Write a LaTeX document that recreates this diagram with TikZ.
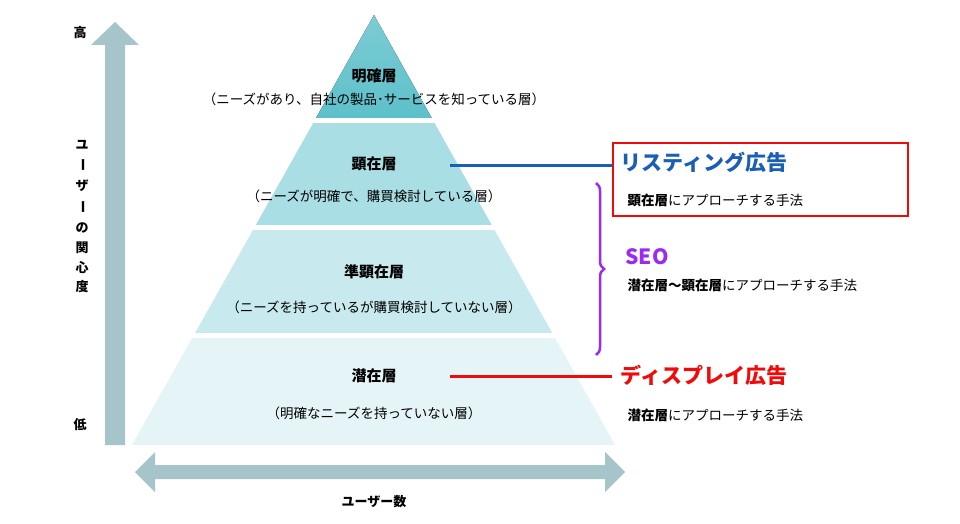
\documentclass[tikz,border=0pt]{standalone}
\usepackage{fontspec}
\setmainfont{Noto Sans CJK JP}
\usetikzlibrary{decorations.pathreplacing}
\definecolor{axisgray}{HTML}{A5C5CA}
\definecolor{layerA}{HTML}{5DC0CA}
\definecolor{layerB}{HTML}{A9DEE4}
\definecolor{layerC}{HTML}{C8EAEE}
\definecolor{layerD}{HTML}{E5F5F7}
\definecolor{adblue}{HTML}{1A5FB4}
\definecolor{adred}{HTML}{F00A0A}
\definecolor{seopurple}{HTML}{9A2BF0}
\tikzset{
  layer title/.style={font=\bfseries\fontsize{15}{17}\selectfont},
  layer note/.style={font=\fontsize{13.5}{15}\selectfont},
  axis label/.style={font=\bfseries\fontsize{13}{15}\selectfont},
  side note/.style={anchor=west,font=\fontsize{13.5}{15}\selectfont},
  ad name/.style={anchor=west,font=\bfseries\fontsize{21}{23}\selectfont}
}
\begin{document}
\begin{tikzpicture}[x=1pt,y=-1pt]
  \useasboundingbox (0,0) rectangle (960,524);
  \fill[white] (0,0) rectangle (960,524);

  % pyramid layers
  \begin{scope}
    \clip (374,15) -- (615,445) -- (132,445) -- cycle;
    \fill[top color=layerA!80!white,bottom color=layerA] (100,10) rectangle (650,118);
    \fill[layerB] (100,123) rectangle (650,225);
    \fill[layerC] (100,230) rectangle (650,333);
    \fill[layerD] (100,338) rectangle (650,445);
  \end{scope}

  \node[layer title] (t1) at (374,76) {明確層};
  \node[layer note] (n1) at (374,99) {（ニーズがあり、自社の製品･サービスを知っている層）};
  \node[layer title] (t2) at (374,164) {顕在層};
  \node[layer note] (n2) at (374,196) {（ニーズが明確で、購買検討している層）};
  \node[layer title] (t3) at (374,272) {準顕在層};
  \node[layer note] (n3) at (374,307) {（ニーズを持っているが購買検討していない層）};
  \node[layer title] (t4) at (374,376) {潜在層};
  \node[layer note] (n4) at (374,413) {（明確なニーズを持っていない層）};

  % axes
  \fill[axisgray] (105,445) -- (105,45) -- (91,45) -- (115,22) -- (139,45) -- (125,45) -- (125,445) -- cycle;
  \fill[axisgray] (155,465) -- (155,452) -- (135,472) -- (155,492) -- (155,479)
    -- (605,479) -- (605,492) -- (625,472) -- (605,452) -- (605,465) -- cycle;
  \node[axis label] (high) at (80,33) {高};
  \node[axis label] (low) at (80,425) {低};
  \foreach \ch/\yy/\rot in {ユ/145/0, ー/165/-90, ザ/186/0, ー/207/-90, の/228/0, 関/248/0, 心/268/0, 度/287/0}
    \node[axis label,rotate=\rot] (interest-\yy) at (82,\yy) {\ch};
  \node[axis label] (users) at (374,502) {ユーザー数};

  % listing
  \coordinate (lsA) at (450,165);
  \coordinate (lsB) at (612,165);
  \draw[adblue,line width=3pt] (lsA) -- (lsB);
  \draw[adred,line width=2.5pt] (613,143) rectangle (908,216);
  \node[ad name,text=adblue] (listing) at (617,162) {リスティング広告};
  \node[side note] (lsnote) at (624,200) {\textbf{顕在層}にアプローチする手法};

  % seo
  \draw[seopurple,line width=2.5pt,decorate,decoration={brace,amplitude=8pt}] (596,183) -- (596,355);
  \node[ad name,text=seopurple] (seo) at (622,257) {SEO};
  \node[side note] (seonote) at (624,285) {\textbf{潜在層～顕在層}にアプローチする手法};

  % display
  \coordinate (dpA) at (450,376);
  \coordinate (dpB) at (612,376);
  \draw[adred,line width=3pt] (dpA) -- (dpB);
  \node[ad name,text=adred] (display) at (617,375) {ディスプレイ広告};
  \node[side note] (dpnote) at (624,415) {\textbf{潜在層}にアプローチする手法};
\end{tikzpicture}
\end{document}
